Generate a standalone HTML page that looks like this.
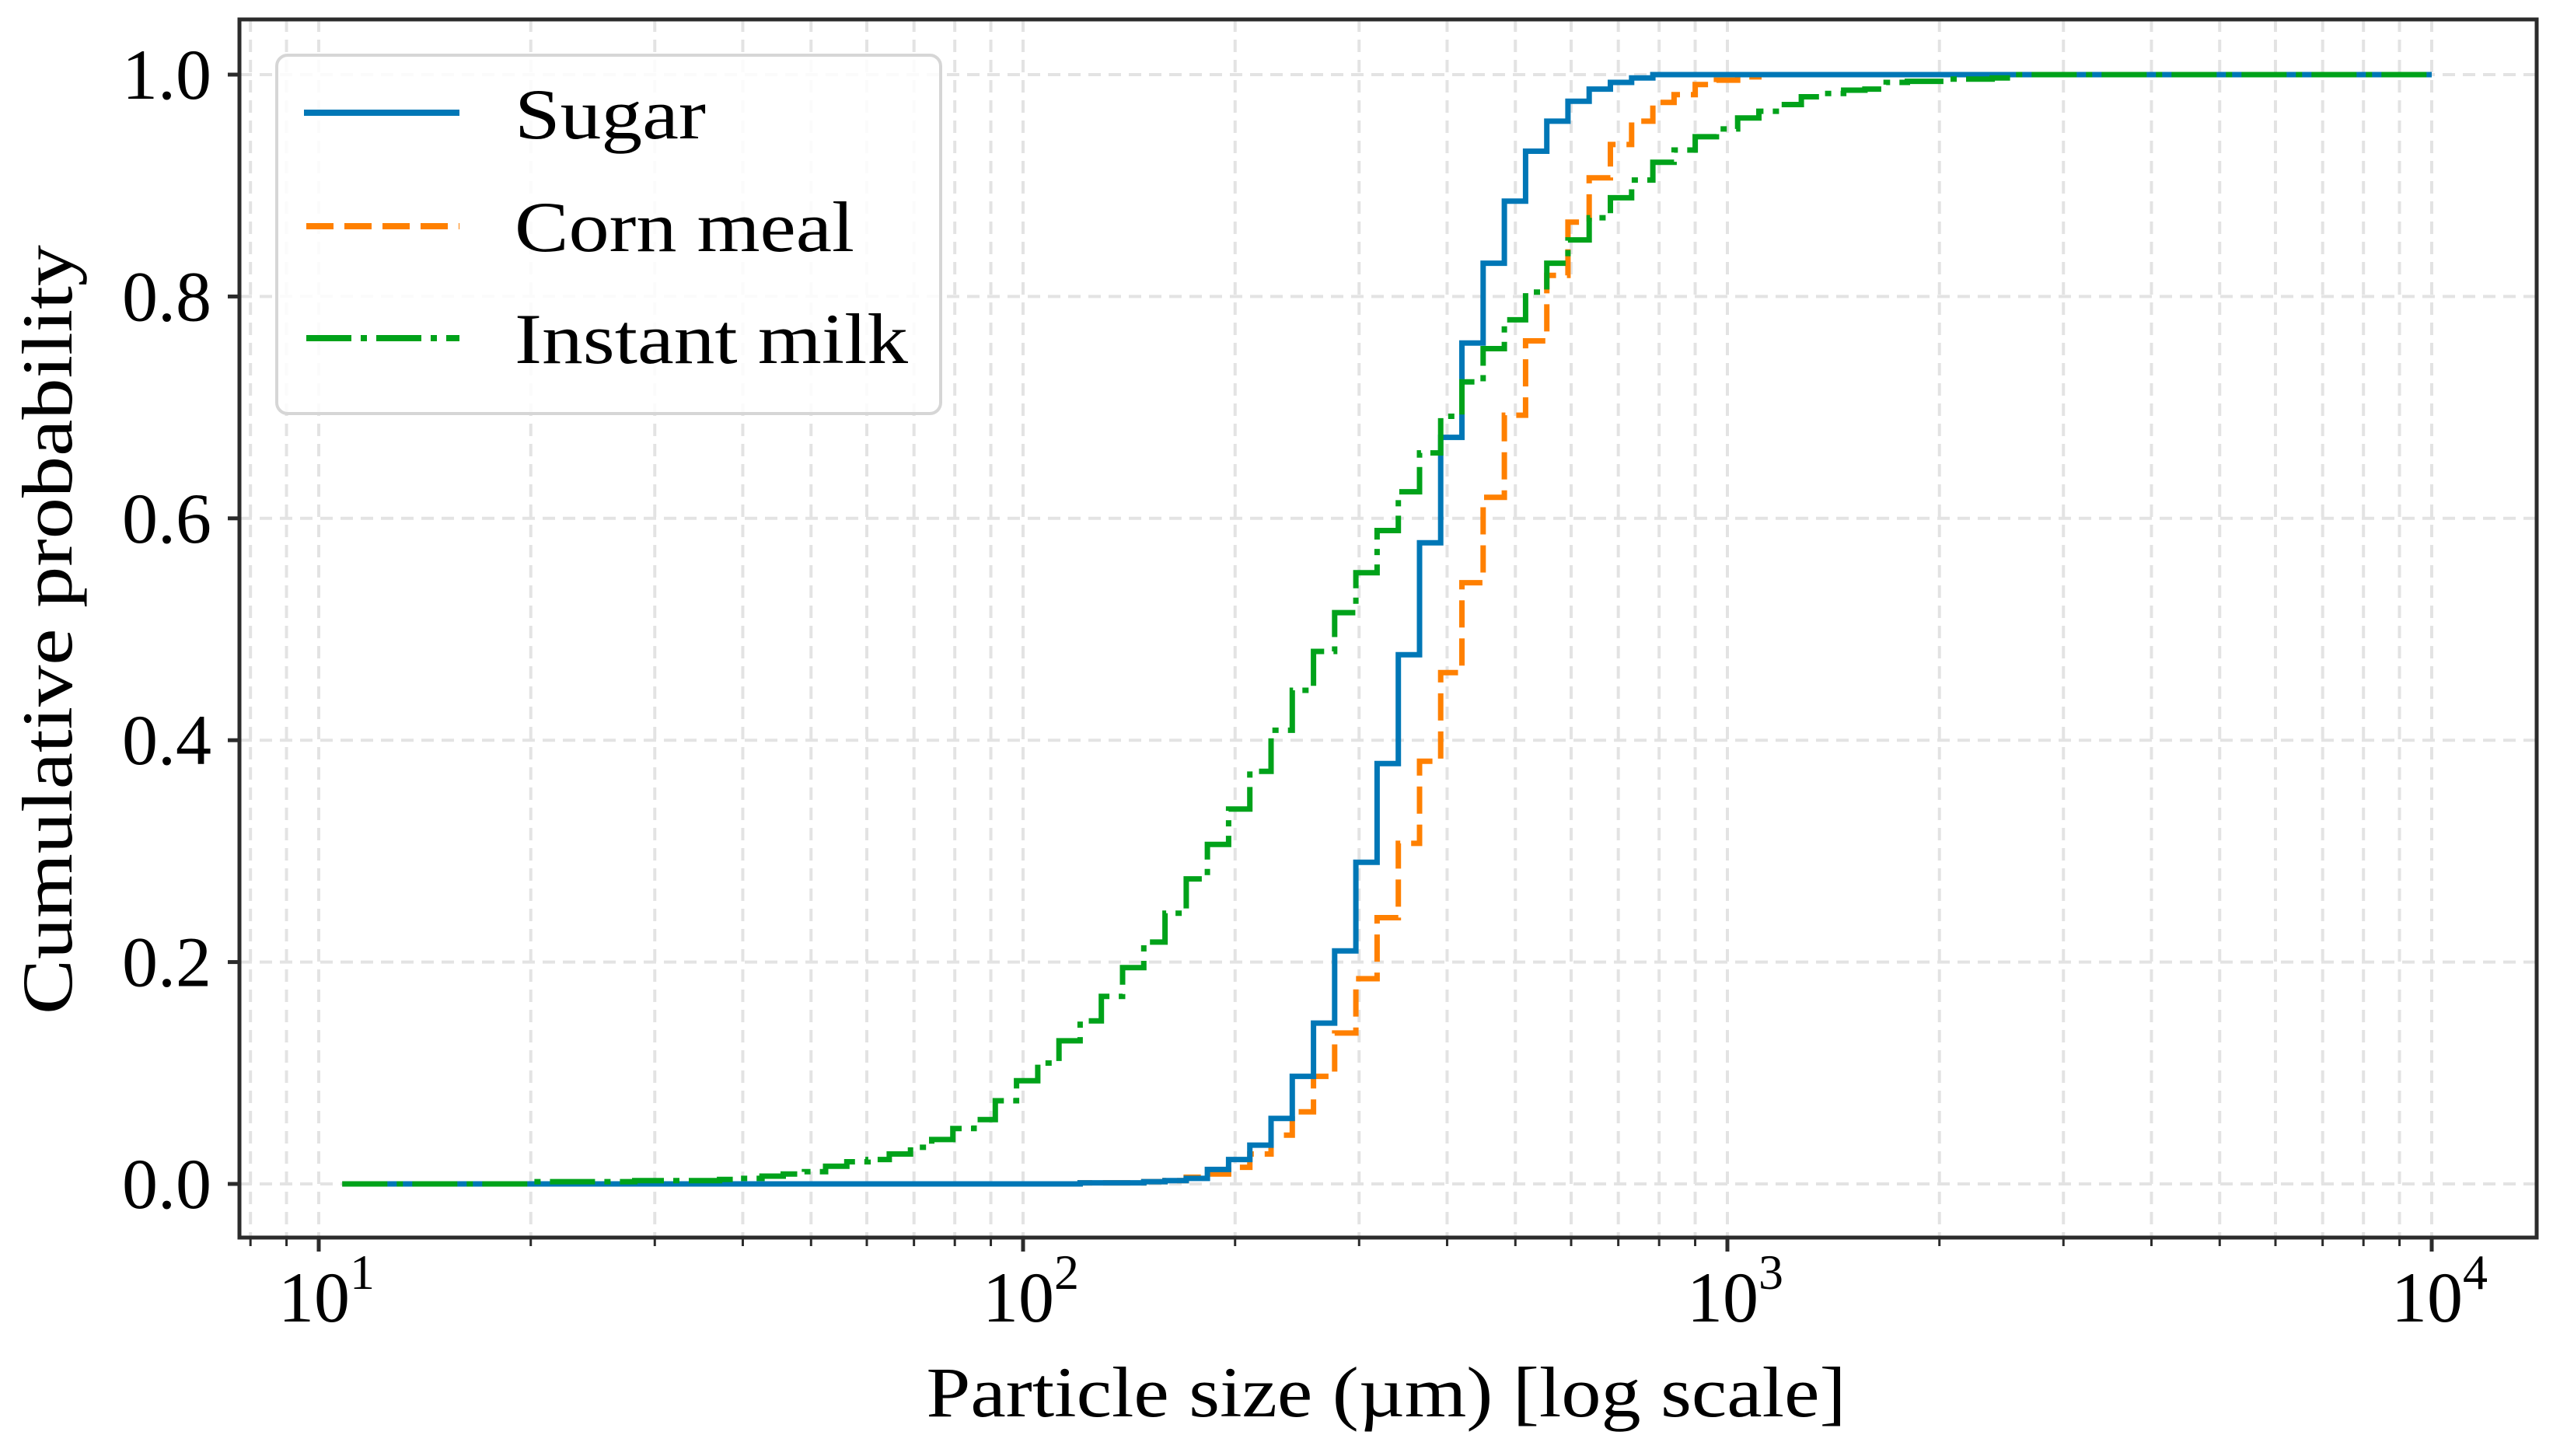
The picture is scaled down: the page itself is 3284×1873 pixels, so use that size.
<!DOCTYPE html>
<html><head><meta charset="utf-8"><style>
html,body{margin:0;padding:0;background:#fff;}
svg{display:block;font-family:"Liberation Serif",serif;}
</style></head><body>
<svg id="chart" width="3284" height="1873" viewBox="0 0 3284 1873" xmlns="http://www.w3.org/2000/svg">
<g id="grid"></g>
<g id="series"></g>
<g id="axes"></g>
<g id="legend">
  <rect x="356" y="71" width="854" height="461" rx="14" fill="#fff" fill-opacity="0.85" stroke="#d6d6d6" stroke-width="4"/>
  <g>
    <line x1="391" y1="145" x2="591" y2="145" stroke="#0077b6" stroke-width="8"/>
    <text x="662" y="178" font-size="92" fill="#000" textLength="246" lengthAdjust="spacingAndGlyphs">Sugar</text>
  </g>
  <g>
    <line x1="394" y1="291" x2="591" y2="291" stroke="#ff8000" stroke-width="8" stroke-dasharray="35,14"/>
    <text x="662" y="323" font-size="92" fill="#000" textLength="437" lengthAdjust="spacingAndGlyphs">Corn meal</text>
  </g>
  <g>
    <line x1="394" y1="435" x2="591" y2="435" stroke="#00a21a" stroke-width="8" stroke-dasharray="58,12,8,12"/>
    <text x="662" y="467" font-size="92" fill="#000" textLength="506" lengthAdjust="spacingAndGlyphs">Instant milk</text>
  </g>
</g>
</svg>
<script>
// ---- data ----
const binStart = 182.7;      // µm, edge j=0
const binRatio = 1.0718;     // sieve ratio between edges
const firstBin = -32;        // index of first listed edge
const xMin = 10.8, xMax = 10000;
const sugarValues = [0,0,0,0,0,0,0,0,0,0, 0,0,0,0,0,0,0,0,0,0, 0,0,0,0,0,0,0.001,0.001,0.001,0.002, 0.003,0.005,0.013,0.022,0.035,0.059,0.097,0.145,0.210,0.290, 0.379,0.477,0.578,0.673,0.758,0.830,0.886,0.931,0.958,0.976, 0.987,0.993,0.997,1,1,1,1,1,1,1, 1,1,1,1,1,1,1,1,1,1,1];
const cornValues = [0,0,0,0,0,0,0,0,0,0, 0,0,0,0,0,0,0,0,0,0, 0,0,0,0,0,0,0.001,0.001,0.001,0.002, 0.003,0.006,0.009,0.015,0.027,0.044,0.065,0.097,0.136,0.185, 0.240,0.307,0.381,0.461,0.542,0.619,0.693,0.760,0.819,0.867, 0.907,0.937,0.958,0.975,0.982,0.991,0.995,0.998,1,1, 1,1,1,1,1,1,1,1,1,1,1];
const milkValues = [0.002,0.002,0.002,0.002,0.002,0.003,0.003,0.003,0.003,0.004, 0.005,0.007,0.009,0.011,0.016,0.020,0.022,0.027,0.033,0.040, 0.050,0.058,0.075,0.093,0.109,0.129,0.147,0.169,0.195,0.218, 0.244,0.275,0.306,0.338,0.372,0.409,0.445,0.480,0.515,0.551, 0.589,0.624,0.659,0.692,0.723,0.753,0.779,0.804,0.830,0.851, 0.871,0.889,0.905,0.921,0.932,0.944,0.951,0.961,0.967,0.973, 0.980,0.983,0.986,0.987,0.993,0.994,0.994,0.996,0.996,0.997,1];
const yTicks = [0, 0.2, 0.4, 0.6, 0.8, 1.0];
const yTickLabels = ["0.0","0.2","0.4","0.6","0.8","1.0"];
const xDecades = [1, 2, 3, 4];

// ---- layout ----
const L = 308, R = 3263, T = 25, B = 1592;
const X10 = 410, DEC = 906, Y0 = 1523, Y1 = 96;
function sx(v){ return X10 + (Math.log10(v) - 1) * DEC; }
function sy(v){ return Y0 - v * (Y0 - Y1); }
const NS = "http://www.w3.org/2000/svg";
function mk(tag, attrs, parent){
  const e = document.createElementNS(NS, tag);
  for (const k in attrs) e.setAttribute(k, attrs[k]);
  parent.appendChild(e); return e;
}
const grid = document.getElementById('grid');
const axes = document.getElementById('axes');
const series = document.getElementById('series');

// grid
for (let d = 0; d <= 4; d++) {
  for (let m = 1; m <= 9; m++) {
    const v = m * Math.pow(10, d);
    const x = sx(v);
    if (x < L || x > R) continue;
    const g = mk('line', {x1:x, x2:x, y1:T, y2:B, stroke:'#e3e3e3', 'stroke-width':4, 'stroke-dasharray':'16,10'}, grid);
    
    
  }
}
yTicks.forEach(t => {
  const g = mk('line', {x1:L, x2:R, y1:sy(t), y2:sy(t), stroke:'#e3e3e3', 'stroke-width':4, 'stroke-dasharray':'16,10'}, grid);
  
  
});

// series
function stepPath(vals){
  let x = sx(xMin);
  let y = sy(0);
  let d = 'M' + x.toFixed(1) + ',' + y.toFixed(1);
  for (let i = 0; i < vals.length; i++) {
    const e = binStart * Math.pow(binRatio, firstBin + i);
    const ex = sx(e);
    d += ' H' + ex.toFixed(1) + ' V' + sy(vals[i]).toFixed(1);
  }
  d += ' H' + sx(xMax).toFixed(1);
  return d;
}
const milk = mk('path', {d: stepPath(milkValues), fill:'none', stroke:'#00a21a', 'stroke-width':7, 'stroke-dasharray':'58,12,8,12'}, series);


const corn = mk('path', {d: stepPath(cornValues), fill:'none', stroke:'#ff8000', 'stroke-width':7, 'stroke-dasharray':'35,14'}, series);


const sugar = mk('path', {d: stepPath(sugarValues), fill:'none', stroke:'#0077b6', 'stroke-width':7}, series);


series.parentNode.insertBefore(series, document.getElementById('axes'));
// reorder so milk drawn on top like reference? keep sugar top-ish
series.appendChild(milk);

// axes frame
const frame = mk('rect', {x:L, y:T, width:R-L, height:B-T, fill:'none', stroke:'#2b2b2b', 'stroke-width':5}, axes);



// y ticks
yTicks.forEach((t, i) => {
  const tk = mk('line', {x1:L-15, x2:L, y1:sy(t), y2:sy(t), stroke:'#2b2b2b', 'stroke-width':5}, axes);
  
  
  const lb = mk('text', {x:272, y:sy(t)+31, 'font-size':92, 'text-anchor':'end', fill:'#000'}, axes);
  lb.textContent = yTickLabels[i];
  
  
});
// x ticks
for (let d = 0; d <= 4; d++) {
  for (let m = 1; m <= 9; m++) {
    const v = m * Math.pow(10, d);
    const x = sx(v);
    if (x < L || x > R) continue;
    const major = m === 1;
    const tk = mk('line', {x1:x, x2:x, y1:B, y2:B + (major ? 18 : 11), stroke:'#2b2b2b', 'stroke-width': major ? 5 : 3}, axes);
    
    
  }
}
xDecades.forEach(p => {
  const x = sx(Math.pow(10, p));
  const lb = mk('text', {x:x+10, y:1700, 'font-size':92, 'text-anchor':'middle', fill:'#000'}, axes);
  const base = mk('tspan', {}, lb); base.textContent = '10';
  const sup = mk('tspan', {dy:-42, 'font-size':64}, lb); sup.textContent = String(p);
  
  
});

// axis titles
const xt = mk('text', {x:1783, y:1822, 'font-size':92, 'text-anchor':'middle', fill:'#000', textLength:1183, lengthAdjust:'spacingAndGlyphs'}, axes);
xt.textContent = 'Particle size (µm) [log scale]';


const yt = mk('text', {x:0, y:0, 'font-size':92, 'text-anchor':'middle', fill:'#000', textLength:990, lengthAdjust:'spacingAndGlyphs', transform:'translate(92,810) rotate(-90)'}, axes);
yt.textContent = 'Cumulative probability';



// legend on top
document.getElementById('chart').appendChild(document.getElementById('legend'));
</script>
</body></html>
